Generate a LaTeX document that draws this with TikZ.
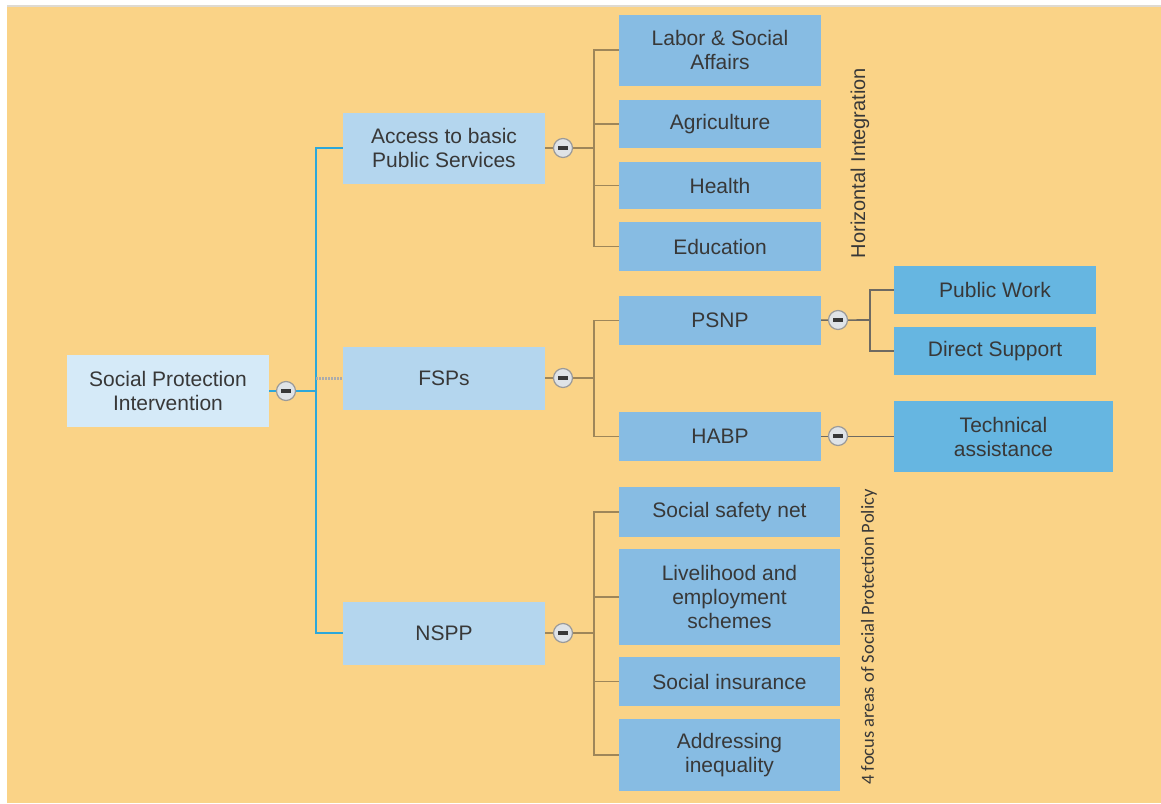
\documentclass[tikz,border=0pt]{standalone}
\usepackage{fontspec}
\setmainfont{Liberation Sans}
\newfontfamily\narrowfont{Carlito}
\usepackage{xcolor}
\usetikzlibrary{positioning}

\definecolor{bgorange}{HTML}{FAD387}
\definecolor{topgray}{HTML}{DEDAD2}
\definecolor{textgray}{HTML}{383838}
\definecolor{rootblue}{HTML}{D5EAF8}
\definecolor{lvlblue}{HTML}{B4D6EE}
\definecolor{midblue}{HTML}{87BCE3}
\definecolor{deepblue}{HTML}{66B6E1}
\definecolor{cyanline}{HTML}{2CA7DA}
\definecolor{brownline}{HTML}{9E8659}
\definecolor{darkline}{HTML}{6E6A62}
\definecolor{togglefill}{HTML}{DFE3E7}
\definecolor{togglerim}{HTML}{9A9A9A}

\begin{document}
\begin{tikzpicture}[x=1pt, y=-1pt,
  box/.style={inner sep=0pt, align=center, text=textgray, font=\fontsize{21}{24}\selectfont},
  rootbox/.style={box, fill=rootblue, minimum width=202pt, minimum height=72pt},
  mainbox/.style={box, fill=lvlblue, minimum width=202pt, minimum height=63pt},
  subbox/.style={box, fill=midblue, minimum width=202pt, minimum height=49pt},
  widebox/.style={subbox, minimum width=221pt},
  leafbox/.style={box, fill=deepblue, minimum width=202pt, minimum height=49pt},
  toggle/.style={circle, draw=togglerim, fill=togglefill, line width=1.2pt, minimum size=19pt, inner sep=0pt,
    path picture={\fill[textgray] ([xshift=-5pt,yshift=-1.6pt]path picture bounding box.center) rectangle ++(10pt,3.2pt);}},
  blueconn/.style={draw=cyanline, line width=2.4pt},
  brownconn/.style={draw=brownline, line width=1.8pt},
  grayconn/.style={draw=darkline, line width=1.6pt},
  dotconn/.style={draw=gray!65, line width=3pt, dash pattern=on 2pt off 1pt},
  sidenote/.style={rotate=90, text=textgray, inner sep=0pt}]

% background
\useasboundingbox (0,0) rectangle (1161,803);
\fill[white] (0,0) rectangle (1161,803);
\fill[bgorange] (7,6) rectangle (1161,803);
\draw[topgray, line width=1.5pt] (7,6) -- (1161,6);

% boxes
\node[rootbox] (root) at (168,391) {Social Protection\\Intervention};

\node[mainbox, minimum height=71pt] (access) at (444,148) {Access to basic\\Public Services};
\node[mainbox] (fsp) at (444,378) {FSPs};
\node[mainbox] (nspp) at (444,633) {NSPP};

\node[subbox, minimum height=71pt] (labor) at (720,50) {Labor \& Social\\Affairs};
\node[subbox, minimum height=48pt] (agri) at (720,124) {Agriculture};
\node[subbox, minimum height=47pt] (health) at (720,185.5) {Health};
\node[subbox] (edu) at (720,246.5) {Education};

\node[subbox] (psnp) at (720,320.5) {PSNP};
\node[subbox] (habp) at (720,436.5) {HABP};

\node[widebox, minimum height=50pt] (safety) at (729.5,512) {Social safety net};
\node[widebox, minimum height=96pt] (liveli) at (729.5,597) {Livelihood and\\employment\\schemes};
\node[widebox] (insur) at (729.5,681.5) {Social insurance};
\node[widebox, minimum height=72pt] (ineq) at (729.5,755) {Addressing\\inequality};

\node[leafbox, minimum height=48pt] (pubwork) at (995,290) {Public Work};
\node[leafbox, minimum height=48pt] (direct) at (995,351) {Direct Support};
\node[leafbox, minimum width=219pt, minimum height=71pt] (techassist) at (1003.5,436.5) {Technical\\assistance};

% side notes
\node[sidenote, font=\fontsize{20}{24}\selectfont] (horiz) at (860,163) {Horizontal Integration};
\node[sidenote, font=\narrowfont\fontsize{18.5}{22}\selectfont] (focus) at (869,637) {4 focus areas of Social Protection Policy};

% bus points
\coordinate (b0) at (316,391);
\coordinate (b1) at (594,148);
\coordinate (b2) at (594,378);
\coordinate (b3) at (594,633);
\coordinate (b4) at (870,320);

% connectors
\draw[blueconn] (root) -- (b0);
\draw[blueconn] (access.west) -| (b0) |- (nspp.west);
\draw[dotconn] (b0 |- fsp) -- (fsp.west);

\draw[brownconn] (access) -- (b1);
\draw[brownconn] (labor.west) -| (b1) |- (edu.west);
\foreach \n in {agri,health}
  \draw[brownconn] (b1 |- \n) -- (\n.west);

\draw[brownconn] (fsp) -- (b2);
\draw[brownconn] (psnp.west) -| (b2) |- (habp.west);

\draw[brownconn] (nspp) -- (b3);
\draw[brownconn] (safety.west) -| (b3) |- (ineq.west);
\foreach \n in {liveli,insur}
  \draw[brownconn] (b3 |- \n) -- (\n.west);

\draw[grayconn] (psnp) -- (b4);
\draw[grayconn] (pubwork.west) -| (b4) |- (direct.west);
\draw[grayconn] (habp) -- (techassist);

% toggles
\node[toggle] (t0) at (286,391) {};
\node[toggle] (t1) at (563,148) {};
\node[toggle] (t2) at (563,378) {};
\node[toggle] (t3) at (563,633) {};
\node[toggle] (t4) at (838,320) {};
\node[toggle] (t5) at (838,436) {};
\end{tikzpicture}
\end{document}
